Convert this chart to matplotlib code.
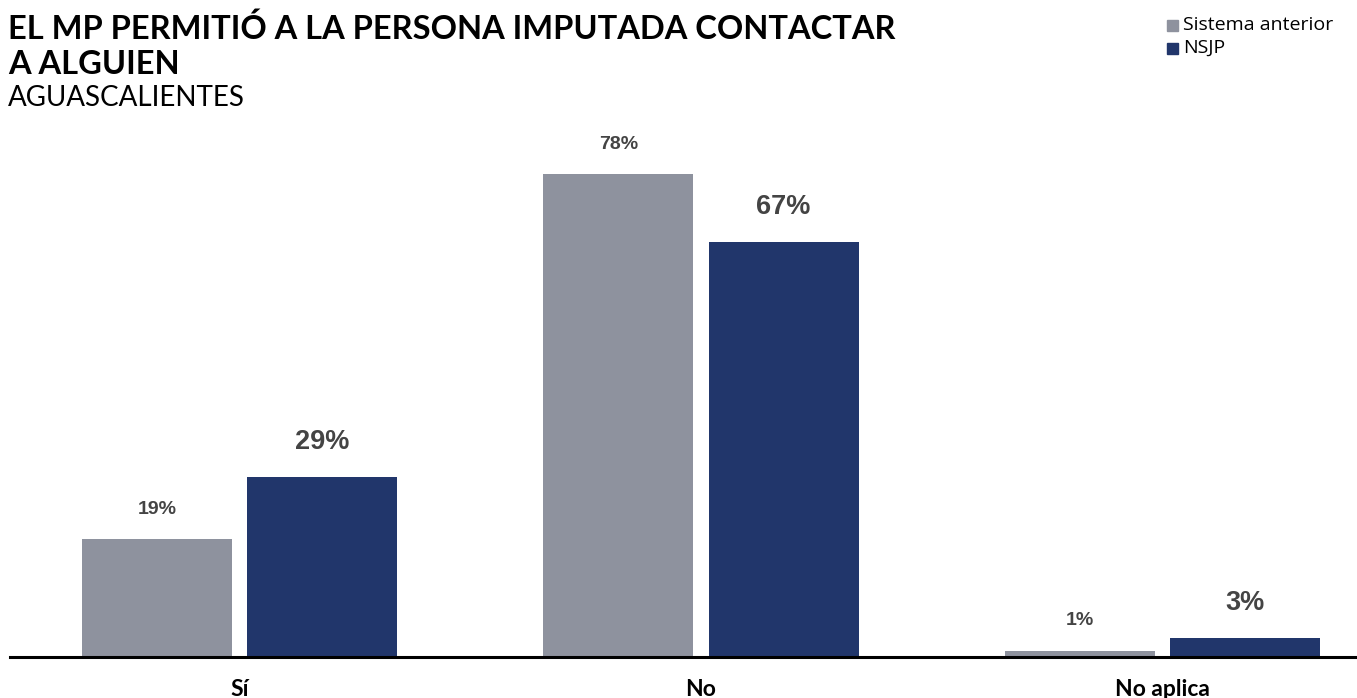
import matplotlib
matplotlib.use('Agg')
import matplotlib.pyplot as plt
import numpy as np
from matplotlib.patches import Rectangle

# Data
categories = ['Sí', 'No', 'No aplica']
series_names = ['Sistema anterior', 'NSJP']
anterior = [19, 78, 1]
nsjp = [29, 67, 3]

GRAY = '#8E929E'
NAVY = '#21366B'
LABEL_COLOR = '#444444'

plt.rcParams['font.family'] = ['Lato', 'DejaVu Sans']

fig = plt.figure(figsize=(13.57, 6.98), dpi=100)
ax = fig.add_axes([10 / 1357, 1 - 657 / 698, 1 - 10 / 1357, (657 - 140) / 698])

x = np.arange(len(categories))
width = 0.325
offset = 0.179

bars_a = ax.bar(x - offset, anterior, width, color=GRAY, label=series_names[0])
bars_n = ax.bar(x + offset, nsjp, width, color=NAVY, label=series_names[1])

# value labels: small for the old system, larger for NSJP
for rect, v in zip(bars_a, anterior):
    ax.annotate(f'{v}%', (rect.get_x() + rect.get_width() / 2, rect.get_height()),
                xytext=(0, 21.5), textcoords='offset points', ha='center', va='center',
                fontsize=14, fontweight='bold', color=LABEL_COLOR, family='Liberation Sans')
for rect, v in zip(bars_n, nsjp):
    ax.annotate(f'{v}%', (rect.get_x() + rect.get_width() / 2, rect.get_height()),
                xytext=(0, 25.5), textcoords='offset points', ha='center', va='center',
                fontsize=19.5, fontweight='bold', color=LABEL_COLOR, family='Liberation Sans')

ax.set_xlim(-0.497, 2.421)
ax.set_ylim(0, 83.5)
for s in ['top', 'right', 'left']:
    ax.spines[s].set_visible(False)
ax.spines['bottom'].set_linewidth(2.2)
ax.spines['bottom'].set_color('black')
ax.set_yticks([])
ax.set_xticks(x)
ax.set_xticklabels(categories, fontsize=16.5, fontweight='bold')
ax.tick_params(axis='x', length=0, pad=16)

# Title block
fig.text(8 / 1357, 1 - 29 / 698, 'EL MP PERMITIÓ A LA PERSONA IMPUTADA CONTACTAR',
         fontsize=23.5, fontweight='bold', va='center', ha='left')
fig.text(8 / 1357, 1 - 65 / 698, 'A ALGUIEN',
         fontsize=23.5, fontweight='bold', va='center', ha='left')
fig.text(8 / 1357, 1 - 98 / 698, 'AGUASCALIENTES',
         fontsize=20, va='center', ha='left')

# Legend
for i, (name, col) in enumerate(zip(series_names, [GRAY, NAVY])):
    yc = 1 - (25 + 23 * i) / 698
    fig.patches.append(Rectangle((1167 / 1357, yc - 5.5 / 698), 11 / 1357, 11 / 698,
                                 transform=fig.transFigure, color=col))
    fig.text(1183 / 1357, yc, name, fontsize=14, va='center', ha='left',
             family=['Open Sans', 'DejaVu Sans'])

fig.savefig('out.png', dpi=100)
